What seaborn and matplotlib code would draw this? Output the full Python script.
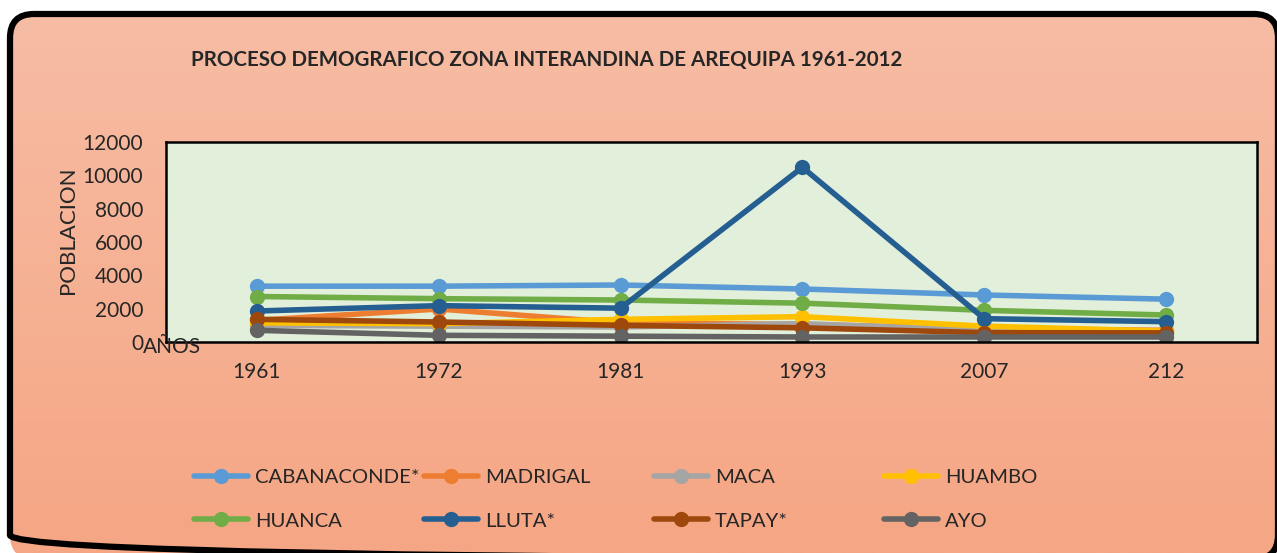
import numpy as np
import pandas as pd
import matplotlib
matplotlib.use("Agg")
import matplotlib.pyplot as plt
import seaborn as sns
from matplotlib.patches import FancyBboxPatch

# --- data ---
years = ["1961", "1972", "1981", "1993", "2007", "212"]
zonas = ["CABANACONDE*", "MADRIGAL", "MACA", "HUAMBO", "HUANCA", "LLUTA*", "TAPAY*", "AYO"]
cabanaconde = [3350, 3350, 3420, 3180, 2820, 2570]
madrigal = [1300, 1980, 1150, 1050, 800, 700]
maca = [1000, 950, 900, 1100, 700, 600]
huambo = [1150, 1100, 1360, 1520, 950, 650]
huanca = [2730, 2600, 2520, 2330, 1900, 1620]
lluta = [1860, 2180, 2030, 10480, 1400, 1220]
tapay = [1360, 1200, 1000, 850, 560, 550]
ayo = [700, 400, 350, 300, 300, 300]
colores = ["#5B9BD5", "#ED7D31", "#A5A5A5", "#FFC000", "#70AD47", "#255E91", "#9E480E", "#636363"]

series = [cabanaconde, madrigal, maca, huambo, huanca, lluta, tapay, ayo]
df = pd.DataFrame({
    "year": years * len(zonas),
    "pob": np.concatenate(series),
    "zona": np.repeat(zonas, len(years)),
})

sns.set_style("white")
plt.rcParams["font.family"] = ["Lato", "DejaVu Sans"]

W, H = 1277, 553
fig = plt.figure(figsize=(W / 100, H / 100), dpi=100, facecolor="white")

# --- chart area: salmon gradient inside a rounded black frame ---
bg = fig.add_axes([0, 0, 1, 1], zorder=-10)
bg.set_axis_off()
bg.set_xlim(0, W)
bg.set_ylim(H, 0)
frame = FancyBboxPatch((10, 14), 1268, 545, boxstyle="round,pad=0,rounding_size=24",
                       facecolor="none", edgecolor="black", linewidth=4.5, zorder=3)
bg.add_patch(frame)
top = np.array([247, 189, 165]) / 255
bot = np.array([245, 166, 132]) / 255
grad = np.linspace(0, 1, 256)[:, None, None] * (bot - top) + top
im = bg.imshow(np.repeat(grad, 2, axis=1), extent=[0, W, H, 0], aspect="auto", zorder=1)
im.set_clip_path(frame)

# --- plot area ---
ax = fig.add_axes([166 / W, 1 - 342 / H, (1257 - 166) / W, (342 - 142) / H])
ax.set_facecolor("#E2EFDA")
ax.axhline(0, color="#D9D9D9", linewidth=2, zorder=1)
sns.lineplot(data=df, x="year", y="pob", hue="zona", hue_order=zonas, palette=colores,
             marker="o", markersize=11, markeredgewidth=0, linewidth=4, sort=False,
             ax=ax, legend=True)
handles, labels = ax.get_legend_handles_labels()
ax.get_legend().remove()

ax.set_xlim(-0.5, 5.5)
ax.set_ylim(0, 12000)
ax.set_yticks(range(0, 12001, 2000))
ax.tick_params(axis="y", labelsize=15, pad=16.5, length=0)
ax.tick_params(axis="x", labelsize=15, pad=14.5, length=0)
for s in ax.spines.values():
    s.set_color("black")
    s.set_linewidth(1.8)
ax.set_xlabel("")
ax.set_ylabel("")

fig.text(191 / W, 1 - 60 / H, "PROCESO DEMOGRAFICO ZONA INTERANDINA DE AREQUIPA 1961-2012",
         fontsize=14.8, fontweight="bold", va="center", ha="left")
fig.text(68 / W, 1 - 230 / H, "POBLACION", fontsize=16, rotation=90, va="center", ha="center")
fig.text(143 / W, 1 - 347 / H, "AÑOS", fontsize=15, va="center", ha="left")

# --- legend: four columns of two rows ---
col_x = [194, 424, 654, 884]
for c, x in enumerate(col_x):
    idx = [c, c + 4]
    fig.legend([handles[i] for i in idx], [labels[i] for i in idx],
               loc="upper left", bbox_to_anchor=(x / W, 1 - 469 / H),
               frameon=False, fontsize=14.6, handlelength=2.66, handletextpad=0.35,
               labelspacing=1.29, borderaxespad=0, borderpad=0)

fig.savefig("out.png", dpi=100, facecolor="white")
